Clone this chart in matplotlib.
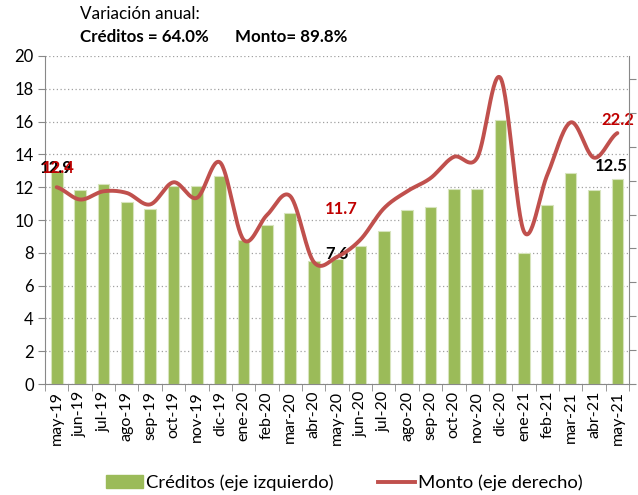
import numpy as np
import matplotlib
matplotlib.use("Agg")
import matplotlib.pyplot as plt
from matplotlib.patches import Patch
from matplotlib.lines import Line2D

plt.rcParams['font.family'] = ['Lato', 'DejaVu Sans']

months = ["may-19", "jun-19", "jul-19", "ago-19", "sep-19", "oct-19", "nov-19", "dic-19",
          "ene-20", "feb-20", "mar-20", "abr-20", "may-20", "jun-20", "jul-20", "ago-20",
          "sep-20", "oct-20", "nov-20", "dic-20", "ene-21", "feb-21", "mar-21", "abr-21", "may-21"]
creditos = [12.9, 11.8, 12.2, 11.1, 10.7, 12.1, 12.1, 12.7, 8.8, 9.7, 10.4, 7.5, 7.6,
            8.4, 9.3, 10.6, 10.8, 11.9, 11.9, 16.1, 8.0, 10.9, 12.85, 11.8, 12.5]
monto = [12.0, 11.25, 11.75, 11.65, 10.95, 12.3, 11.35, 13.5, 8.8, 10.3, 11.45, 7.45, 7.75,
         8.8, 10.7, 11.75, 12.55, 13.85, 13.8, 18.65, 9.3, 12.75, 15.95, 13.8, 15.3]

GREEN = "#9BBB59"
RED = "#C0504D"

def catmull_rom(y, n=30):
    y = np.asarray(y, float)
    p = np.concatenate([[y[0]], y, [y[-1]]])
    xs, ys = [], []
    for i in range(len(y) - 1):
        p0, p1, p2, p3 = p[i], p[i + 1], p[i + 2], p[i + 3]
        t = np.linspace(0, 1, n, endpoint=False)
        c1 = p1 + (p2 - p0) / 6
        c2 = p2 - (p3 - p1) / 6
        yy = (1 - t) ** 3 * p1 + 3 * (1 - t) ** 2 * t * c1 + 3 * (1 - t) * t ** 2 * c2 + t ** 3 * p2
        xs.append(i + t)
        ys.append(yy)
    xs.append([len(y) - 1])
    ys.append([y[-1]])
    return np.concatenate(xs), np.concatenate(ys)

fig = plt.figure(figsize=(6.38, 4.95), dpi=100)
ax = fig.add_axes([0.0705, 0.2242, 0.9155, 0.6627])
x = np.arange(len(months))

ax.bar(x, creditos, width=0.5, color=GREEN, edgecolor="#D7E4BD", linewidth=0.8, zorder=2)
ax.set_xlim(-0.5, len(months) - 0.5)
ax.set_ylim(0, 20)
ax.set_yticks(np.arange(0, 21, 2))
ax.yaxis.grid(True, linestyle=(0, (1, 2)), color="#A0A0A0", linewidth=0.9, zorder=0)
ax.set_axisbelow(True)
ax.set_xticks(x)
ax.set_xticklabels(months, rotation=90, fontsize=11.5)
ax.set_xticks(np.arange(-0.5, len(months), 1), minor=True)
ax.tick_params(axis='x', which='major', length=0, pad=5)
ax.tick_params(axis='x', which='minor', length=5, color="#888888")
ax.tick_params(axis='y', labelsize=12, length=5, color="#888888", pad=3)
for s in ['top', 'right']:
    ax.spines[s].set_visible(False)
for s in ['left', 'bottom']:
    ax.spines[s].set_color("#888888")

ax2 = ax.twinx()
ax2.set_ylim(0, 20)
ax2.set_yticks(np.arange(0, 20, 20 * 33.9 / 328))
ax2.tick_params(axis='y', labelright=False, length=5, color="#888888")
for s in ['top', 'left', 'bottom']:
    ax2.spines[s].set_visible(False)
ax2.spines['right'].set_color("#888888")
sx, sy = catmull_rom(monto)
ax2.plot(sx, sy, color=RED, linewidth=2.8, solid_capstyle='round', zorder=3)

# data labels
lab = dict(fontsize=12, fontweight='bold', ha='center', va='center')
ax.text(0, 13.2, "12.9", color="black", **lab)
ax.text(0.08, 13.2, "12.4", color="#C00000", **lab)
ax.text(12.0, 7.95, "7.6", color="black", **lab)
ax.text(12.2, 10.7, "11.7", color="#C00000", **lab)
ax.text(23.75, 13.3, "12.5", color="black", **lab)
ax.text(24.0, 16.1, "22.2", color="#C00000", **lab)

fig.text(80 / 638, 1 - 14 / 495, "Variación anual:", fontsize=12.3, va='center', ha='left')
fig.text(80 / 638, 1 - 37 / 495, "Créditos = 64.0%", fontsize=12.2, fontweight='bold', va='center', ha='left')
fig.text(235 / 638, 1 - 37 / 495, "Monto= 89.8%", fontsize=12.2, fontweight='bold', va='center', ha='left')

handles = [Patch(facecolor=GREEN, edgecolor=GREEN), Line2D([0], [0], color=RED, linewidth=2.8)]
fig.legend(handles, ["Créditos (eje izquierdo)", "Monto (eje derecho)"], loc='center',
           bbox_to_anchor=(0.54, 1 - 483 / 495), ncol=2, frameon=False, fontsize=13.3,
           handlelength=2.0, handletextpad=0.15, columnspacing=2.4)

fig.savefig("out.png", dpi=100)
